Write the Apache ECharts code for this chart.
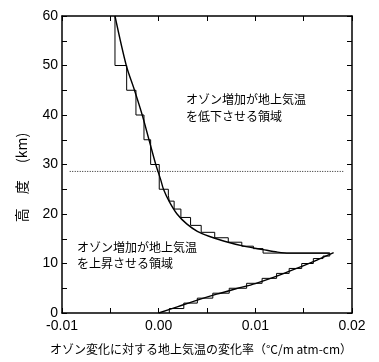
<!DOCTYPE html>
<html><head><meta charset="utf-8">
<script src="https://cdn.jsdelivr.net/npm/echarts@6/dist/echarts.min.js"></script>
<style>html,body{margin:0;padding:0;background:#fff}#c{width:379px;height:362px}</style>
</head><body><div id="c"></div>
<script>
// Axis ticks and labels
const xTicks = [-0.01, 0, 0.01, 0.02];
const xTickLabels = ['-0.01', '0.00', '0.01', '0.02'];
const yTicks = [0, 10, 20, 30, 40, 50, 60];
const yTickLabels = ['0', '10', '20', '30', '40', '50', '60'];

// Smooth curve, upper branch (x value, altitude km)
const upperCurveX = [-0.00452, -0.00335, -0.0025, -0.0017, -0.0010, -0.0003, 0.0002, 0.0005, 0.0011, 0.0019, 0.0029, 0.0040, 0.0052, 0.0068, 0.0088, 0.0108, 0.0123, 0.0135, 0.0177];
const upperCurveZ = [60, 50, 45, 40, 35, 30, 27, 25, 22.5, 20, 18, 16.5, 15.5, 14.5, 13.5, 12.8, 12.3, 12.1, 12.1];

// Smooth curve, lower branch
const lowerCurveX = [0, 0.002, 0.004, 0.006, 0.008, 0.010, 0.012, 0.014, 0.016, 0.0181];
const lowerCurveZ = [0, 1.3, 2.6, 3.8, 4.9, 5.95, 7.3, 8.8, 10.4, 12.2];

// Layered (step) values, upper branch: layer boundaries (top->bottom) and value per layer
const upperStepBounds = [60, 50, 45, 40, 35, 30, 25, 23.8, 22.6, 21.0, 19.3, 17.7, 16.3, 15.2, 14.3, 13.5, 13.0, 12.1];
const upperStepValues = [-0.00452, -0.00331, -0.00235, -0.00152, -0.00083, 0.00006, 0.0010, 0.0011, 0.0016, 0.0023, 0.0033, 0.0044, 0.0058, 0.0072, 0.0086, 0.0098, 0.0108];

// Layered (step) values, lower branch: boundaries (top->bottom) and values
const lowerStepBounds = [12.1, 11.5, 11.0, 10.0, 9.0, 8.0, 7.0, 6.0, 5.0, 4.0, 3.0, 2.0, 0.9, 0];
const lowerStepValues = [0.0177, 0.0170, 0.0160, 0.0148, 0.0135, 0.0122, 0.0107, 0.0091, 0.0073, 0.0056, 0.0040, 0.0026, 0.0011];

// Dotted reference line
const dottedX = [-0.0092, 0.0191];
const dottedZ = [28.6, 28.6];

function pairs(xs, zs) { return xs.map((x, i) => [x, zs[i]]); }
function steps(bounds, values) {
  const pts = [];
  values.forEach((v, i) => { pts.push([v, bounds[i]]); pts.push([v, bounds[i + 1]]); });
  return pts;
}
const stepData = steps(upperStepBounds, upperStepValues).concat(steps(lowerStepBounds, lowerStepValues));

const numFont = 'Liberation Sans, Arial, sans-serif';
const jpFont = 'Noto Sans CJK JP, sans-serif';

function xFmt(v) { const i = xTicks.findIndex(t => Math.abs(t - v) < 1e-9); return i >= 0 ? xTickLabels[i] : ''; }
function yFmt(v) { const i = yTicks.findIndex(t => Math.abs(t - v) < 1e-9); return i >= 0 ? yTickLabels[i] : ''; }

const axisLine = { show: true, onZero: false, lineStyle: { color: '#000', width: 1.5 } };
const tick = { show: true, inside: true, length: 5, lineStyle: { color: '#000', width: 1 } };
const minor = { show: true, splitNumber: 2, length: 5, lineStyle: { color: '#000', width: 1 } };

const chart = echarts.init(document.getElementById('c'), null, { renderer: 'canvas' });
chart.setOption({
  animation: false,
  backgroundColor: '#fff',
  grid: { left: 62, right: 27, top: 16, bottom: 49 },
  xAxis: [{
    type: 'value', min: -0.01, max: 0.02, interval: 0.01, position: 'bottom',
    axisLine, axisTick: tick, minorTick: minor, splitLine: { show: false },
    axisLabel: { formatter: xFmt, color: '#000', fontSize: 14, fontFamily: numFont, margin: 6 },
    name: 'オゾン変化に対する地上気温の変化率（°C/m atm-cm）', nameLocation: 'middle', nameGap: 30,
    nameTextStyle: { fontSize: 12, fontFamily: jpFont, color: '#000', padding: [0, 12, 0, 0] }
  }, {
    type: 'value', min: -0.01, max: 0.02, interval: 0.01, position: 'top',
    axisLine, axisTick: tick, minorTick: minor, splitLine: { show: false },
    axisLabel: { show: false }
  }],
  yAxis: [{
    type: 'value', min: 0, max: 60, interval: 10, position: 'left',
    axisLine, axisTick: tick, minorTick: minor, splitLine: { show: false },
    axisLabel: { formatter: yFmt, color: '#000', fontSize: 14, fontFamily: numFont, margin: 4 },
    name: '高\u3000度\u3000 (km)', nameLocation: 'middle', nameGap: 33, nameRotate: 90,
    nameTextStyle: { fontSize: 14, fontFamily: jpFont, color: '#000', padding: [0, 26, 0, 0] }
  }, {
    type: 'value', min: 0, max: 60, interval: 10, position: 'right',
    axisLine, axisTick: tick, minorTick: minor, splitLine: { show: false },
    axisLabel: { show: false }
  }],
  series: [
    { type: 'line', data: pairs(dottedX, dottedZ), showSymbol: false, silent: true,
      lineStyle: { color: '#222', width: 1, type: [1, 1.5] } },
    { type: 'line', data: stepData, showSymbol: false, silent: true,
      lineStyle: { color: '#000', width: 1 } },
    { type: 'line', data: pairs(upperCurveX, upperCurveZ), showSymbol: false, silent: true,
      smooth: 0.3, lineStyle: { color: '#000', width: 1.4 } },
    { type: 'line', data: pairs(lowerCurveX, lowerCurveZ), showSymbol: false, silent: true,
      smooth: 0.3, lineStyle: { color: '#000', width: 1.4 } }
  ],
  graphic: [
    { type: 'text', left: 186, top: 91, style: { text: 'オゾン増加が地上気温\nを低下させる領域', font: '12px ' + jpFont, fill: '#000', lineHeight: 17 } },
    { type: 'text', left: 77, top: 239, style: { text: 'オゾン増加が地上気温\nを上昇させる領域', font: '12px ' + jpFont, fill: '#000', lineHeight: 16 } }
  ]
});
</script>
</body></html>
